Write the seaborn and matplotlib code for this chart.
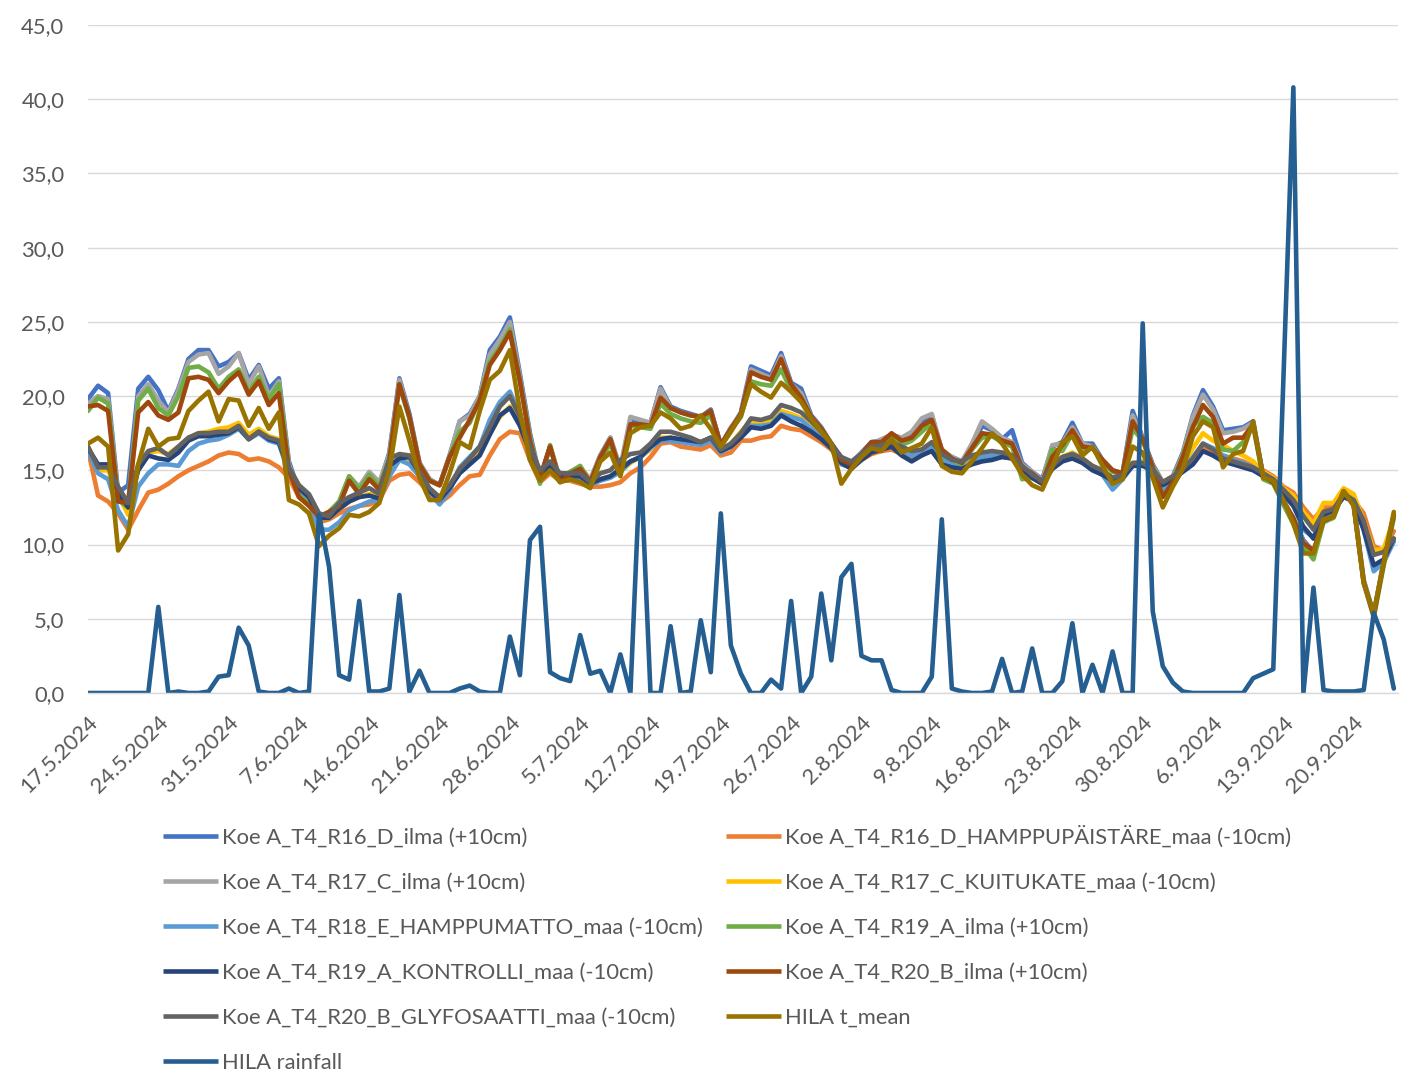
import numpy as np
import pandas as pd
import matplotlib
matplotlib.use('Agg')
import matplotlib.pyplot as plt
import seaborn as sns
import matplotlib.transforms as mtransforms
from matplotlib.lines import Line2D
from matplotlib.ticker import FuncFormatter, MultipleLocator

sns.set_style('white')
plt.rcParams['font.family'] = ['Lato', 'DejaVu Sans']

dates = pd.date_range('2024-05-17', '2024-09-24', freq='D')

names = [
    "Koe A_T4_R16_D_ilma (+10cm)",
    "Koe A_T4_R16_D_HAMPPUPÄISTÄRE_maa (-10cm)",
    "Koe A_T4_R17_C_ilma (+10cm)",
    "Koe A_T4_R17_C_KUITUKATE_maa (-10cm)",
    "Koe A_T4_R18_E_HAMPPUMATTO_maa (-10cm)",
    "Koe A_T4_R19_A_ilma (+10cm)",
    "Koe A_T4_R19_A_KONTROLLI_maa (-10cm)",
    "Koe A_T4_R20_B_ilma (+10cm)",
    "Koe A_T4_R20_B_GLYFOSAATTI_maa (-10cm)",
    "HILA t_mean",
    "HILA rainfall",
]

r16_ilma = [19.8, 20.7, 20.2, 13.5, 14.0, 20.5, 21.3, 20.4, 19.0, 20.5,
            22.5, 23.1, 23.1, 22.0, 22.3, 22.9, 21.1, 22.1, 20.5, 21.2,
            15.6, 13.6, 13.0, 11.7, 12.0, 12.8, 14.5, 13.8, 14.8, 14.0,
            16.2, 21.2, 18.8, 15.5, 14.4, 14.0, 16.0, 18.3, 18.8, 20.0,
            23.1, 24.0, 25.3, 21.5, 17.5, 14.5, 16.6, 14.3, 14.8, 15.1,
            14.3, 16.0, 17.2, 15.0, 18.4, 18.3, 18.2, 20.6, 19.3, 19.0,
            18.8, 18.6, 19.1, 16.7, 17.8, 18.9, 22.0, 21.7, 21.4, 22.9,
            20.9, 20.5, 18.7, 17.9, 16.8, 15.8, 15.5, 16.2, 16.9, 17.0,
            17.4, 17.1, 17.5, 18.3, 18.7, 16.3, 15.9, 15.6, 16.5, 18.0,
            17.7, 17.1, 17.7, 15.5, 14.9, 14.4, 16.6, 16.9, 18.2, 16.8,
            16.8, 15.7, 15.0, 14.8, 19.0, 17.2, 15.4, 14.2, 14.6, 16.2,
            18.7, 20.4, 19.3, 17.7, 17.8, 17.9, 18.3, 14.6, 14.3, 13.0,
            11.7, 10.3, 9.5, 11.6, 11.9, 13.6, 12.8, 7.6, 5.3, 8.9, 12.0]

r16_maa = [16.4, 13.3, 12.9, 12.1, 11.0, 12.3, 13.5, 13.7, 14.1, 14.6,
           15.0, 15.3, 15.6, 16.0, 16.2, 16.1, 15.7, 15.8, 15.6, 15.2,
           14.5, 13.2, 12.7, 11.5, 11.7, 12.1, 12.4, 12.6, 12.7, 13.0,
           14.3, 14.7, 14.8, 14.2, 13.5, 12.8, 13.3, 14.0, 14.6, 14.7,
           16.0, 17.1, 17.6, 17.5, 15.7, 14.2, 14.8, 14.3, 14.3, 14.1,
           13.9, 13.9, 14.0, 14.2, 14.8, 15.2, 15.9, 16.8, 16.9, 16.6,
           16.5, 16.4, 16.7, 16.0, 16.2, 17.0, 17.0, 17.2, 17.3, 18.0,
           17.8, 17.7, 17.3, 16.9, 16.4, 15.5, 15.3, 15.7, 16.1, 16.3,
           16.4, 16.1, 15.9, 16.1, 16.4, 15.7, 15.4, 15.1, 15.5, 15.7,
           15.8, 15.9, 15.8, 15.1, 14.5, 14.1, 15.1, 15.6, 16.0, 15.6,
           15.1, 14.8, 14.3, 14.5, 15.3, 15.4, 15.0, 14.1, 14.6, 15.0,
           15.6, 16.5, 16.3, 16.0, 15.8, 15.6, 15.3, 15.0, 14.6, 13.9,
           13.5, 12.5, 11.7, 12.5, 12.5, 13.6, 13.0, 12.1, 9.9, 9.6, 10.9]

r17_ilma = [19.5, 20.0, 19.8, 13.3, 12.8, 20.0, 20.8, 19.7, 18.9, 20.4,
            22.3, 22.8, 22.9, 21.5, 22.0, 22.9, 20.8, 22.0, 20.0, 21.0,
            15.4, 13.5, 12.9, 11.8, 12.1, 12.7, 14.6, 13.9, 14.9, 14.2,
            16.1, 21.1, 18.6, 15.5, 14.4, 14.0, 16.0, 18.3, 18.7, 20.0,
            22.8, 23.8, 25.0, 21.3, 17.3, 14.4, 16.6, 14.4, 14.9, 15.2,
            14.4, 16.0, 17.2, 15.2, 18.6, 18.4, 18.2, 20.5, 19.2, 18.9,
            18.7, 18.6, 19.0, 16.7, 17.9, 18.8, 21.8, 21.5, 21.2, 22.7,
            20.8, 20.2, 18.6, 17.8, 16.8, 15.8, 15.5, 16.2, 16.8, 17.1,
            17.4, 17.2, 17.6, 18.5, 18.8, 16.4, 15.9, 15.6, 16.8, 18.3,
            17.8, 17.2, 16.9, 15.4, 14.9, 14.3, 16.7, 16.8, 17.9, 16.8,
            16.6, 15.7, 15.0, 14.8, 18.7, 17.1, 15.3, 14.1, 14.5, 16.1,
            18.6, 20.1, 19.1, 17.5, 17.6, 17.8, 18.2, 14.6, 14.2, 13.0,
            11.7, 10.2, 9.4, 11.6, 11.9, 13.7, 12.8, 7.6, 5.3, 8.9, 12.0]

r17_maa = [16.6, 15.0, 15.0, 13.4, 12.0, 15.2, 16.2, 16.3, 16.1, 16.6,
           17.2, 17.5, 17.6, 17.8, 17.9, 18.2, 17.4, 17.8, 17.3, 17.1,
           15.2, 14.0, 13.2, 11.8, 11.8, 12.4, 12.9, 13.2, 13.4, 13.3,
           15.2, 15.9, 15.5, 14.6, 13.6, 13.0, 13.8, 15.0, 15.6, 16.3,
           17.5, 18.6, 19.3, 18.2, 16.0, 14.6, 15.2, 14.5, 14.6, 14.5,
           14.0, 14.4, 14.6, 14.9, 15.5, 15.9, 16.4, 17.2, 17.2, 17.0,
           16.9, 16.8, 17.1, 16.3, 16.8, 17.6, 18.3, 18.2, 18.4, 19.0,
           18.8, 18.5, 18.0, 17.4, 16.6, 15.6, 15.3, 15.9, 16.4, 16.5,
           16.7, 16.3, 16.1, 16.4, 16.7, 16.0, 15.6, 15.3, 15.7, 16.0,
           16.1, 16.2, 16.0, 15.2, 14.7, 14.2, 15.3, 15.9, 16.2, 15.8,
           15.3, 15.0, 14.5, 14.7, 15.5, 15.6, 15.2, 14.2, 14.6, 15.3,
           16.5, 17.5, 17.0, 16.7, 16.3, 16.0, 15.6, 14.9, 14.5, 13.8,
           13.3, 12.2, 11.4, 12.8, 12.8, 13.8, 13.4, 11.6, 9.6, 9.7, 11.8]

r18_maa = [16.3, 14.8, 14.4, 12.3, 11.2, 13.9, 14.8, 15.4, 15.4, 15.3,
           16.3, 16.8, 17.0, 17.1, 17.4, 17.8, 17.1, 17.5, 17.0, 16.8,
           14.8, 13.6, 12.9, 11.0, 11.0, 11.5, 12.3, 12.6, 12.9, 13.0,
           14.6, 15.7, 15.4, 14.6, 13.5, 12.7, 13.6, 15.2, 15.9, 16.6,
           18.4, 19.6, 20.3, 18.8, 15.9, 14.5, 15.0, 14.4, 14.5, 14.4,
           14.0, 14.3, 14.5, 14.9, 15.6, 15.9, 16.5, 17.0, 17.0, 16.9,
           16.8, 16.7, 17.0, 16.2, 16.6, 17.3, 18.0, 18.0, 18.1, 18.8,
           18.6, 18.4, 17.8, 17.2, 16.5, 15.4, 15.2, 15.8, 16.3, 16.4,
           16.6, 16.2, 16.0, 16.3, 16.6, 15.8, 15.4, 15.1, 15.6, 15.9,
           16.0, 16.0, 15.9, 15.0, 14.5, 14.1, 15.2, 15.7, 16.1, 15.6,
           15.1, 14.7, 13.7, 14.4, 15.3, 15.4, 14.8, 13.6, 14.1, 15.0,
           15.9, 16.8, 16.5, 16.0, 15.7, 15.5, 15.2, 14.7, 14.2, 13.3,
           12.7, 11.0, 10.5, 12.0, 12.2, 13.3, 12.9, 11.0, 8.2, 8.8, 10.2]

r19_ilma = [19.0, 19.9, 19.5, 13.0, 12.5, 19.7, 20.5, 19.2, 18.7, 20.0,
            21.9, 22.0, 21.6, 20.5, 21.3, 21.8, 20.3, 21.3, 19.8, 20.8,
            15.2, 13.3, 12.8, 11.8, 12.2, 12.9, 14.6, 13.7, 14.7, 13.9,
            15.8, 20.7, 18.5, 15.4, 14.3, 14.0, 15.9, 17.6, 18.2, 19.8,
            22.3, 23.3, 24.5, 21.0, 17.2, 14.1, 16.7, 14.3, 14.9, 15.3,
            14.2, 15.7, 16.8, 15.0, 18.0, 17.9, 17.8, 19.5, 18.8, 18.5,
            18.3, 18.2, 18.7, 16.6, 17.7, 18.6, 21.0, 20.8, 20.7, 21.8,
            20.4, 19.8, 18.5, 17.8, 16.8, 15.7, 15.5, 16.1, 16.8, 16.9,
            17.3, 16.7, 17.0, 17.6, 18.2, 16.1, 15.7, 15.4, 16.4, 17.2,
            17.3, 16.9, 16.6, 14.4, 14.5, 14.1, 16.4, 16.3, 17.5, 16.3,
            16.5, 15.6, 14.9, 14.7, 17.8, 17.0, 15.2, 14.0, 14.4, 16.0,
            18.0, 18.6, 18.2, 16.4, 16.3, 16.9, 18.0, 14.4, 14.1, 12.7,
            11.4, 9.9, 9.0, 11.5, 11.8, 13.6, 12.7, 7.4, 5.1, 8.6, 11.8]

r19_maa = [16.5, 15.4, 15.4, 13.5, 12.5, 15.0, 16.0, 15.8, 15.7, 16.2,
           17.0, 17.3, 17.3, 17.4, 17.5, 17.9, 17.1, 17.6, 17.1, 16.9,
           15.0, 13.8, 13.2, 11.8, 11.8, 12.4, 12.9, 13.2, 13.3, 13.1,
           15.3, 15.8, 15.9, 14.8, 13.6, 13.0, 13.8, 14.8, 15.4, 16.0,
           17.4, 18.7, 19.2, 18.0, 16.2, 14.8, 15.3, 14.6, 14.6, 14.6,
           14.1, 14.4, 14.6, 15.1, 15.6, 15.9, 16.6, 17.1, 17.2, 17.1,
           17.0, 16.9, 17.2, 16.3, 16.6, 17.2, 17.9, 17.8, 18.0, 18.7,
           18.3, 18.0, 17.6, 17.1, 16.5, 15.5, 15.1, 15.7, 16.2, 16.4,
           16.6, 16.0, 15.6, 16.0, 16.3, 15.4, 15.2, 15.1, 15.4, 15.6,
           15.7, 15.9, 15.8, 15.1, 14.5, 14.1, 15.1, 15.6, 15.8, 15.5,
           15.0, 14.7, 14.3, 14.5, 15.3, 15.3, 15.0, 14.0, 14.4, 14.9,
           15.4, 16.3, 16.0, 15.6, 15.4, 15.2, 15.0, 14.6, 14.2, 13.4,
           12.6, 11.2, 10.4, 12.0, 12.3, 13.2, 12.9, 11.0, 8.6, 9.0, 10.4]

r20_ilma = [19.3, 19.4, 19.0, 12.9, 12.8, 18.9, 19.6, 18.7, 18.4, 18.9,
            21.2, 21.3, 21.1, 20.2, 21.0, 21.6, 20.1, 21.0, 19.4, 20.2,
            15.0, 13.2, 12.6, 11.9, 12.2, 12.6, 14.3, 13.4, 14.4, 13.7,
            15.7, 20.8, 18.6, 15.4, 14.3, 14.0, 15.9, 17.2, 18.4, 19.7,
            22.1, 23.1, 24.3, 21.0, 17.0, 14.5, 16.6, 14.2, 14.8, 15.1,
            14.2, 15.9, 17.1, 14.9, 18.1, 18.1, 18.0, 19.9, 19.2, 18.9,
            18.7, 18.6, 19.0, 16.7, 17.8, 18.8, 21.6, 21.3, 21.1, 22.5,
            20.8, 19.9, 18.6, 17.8, 16.8, 15.7, 15.4, 16.1, 16.9, 16.9,
            17.5, 17.0, 17.2, 18.0, 18.4, 16.4, 15.8, 15.5, 16.5, 17.5,
            17.4, 17.0, 16.8, 15.2, 14.8, 14.2, 15.9, 16.7, 17.7, 16.6,
            16.5, 15.7, 15.0, 14.8, 18.3, 17.1, 15.2, 13.2, 14.2, 15.9,
            17.9, 19.4, 18.6, 16.8, 17.2, 17.2, 18.1, 14.6, 14.2, 12.9,
            11.8, 10.1, 9.6, 11.6, 11.9, 13.6, 12.7, 7.5, 5.2, 8.8, 12.0]

r20_maa = [16.6, 15.2, 15.2, 13.9, 12.8, 15.4, 16.3, 16.5, 16.0, 16.6,
           17.2, 17.5, 17.5, 17.6, 17.6, 18.0, 17.1, 17.6, 17.2, 17.0,
           15.2, 14.0, 13.4, 12.1, 11.9, 12.8, 13.2, 13.5, 13.8, 13.4,
           15.8, 16.1, 16.0, 14.9, 13.8, 13.2, 14.0, 15.1, 15.8, 16.6,
           17.9, 19.3, 20.0, 18.6, 16.6, 15.0, 15.6, 14.8, 14.8, 14.8,
           14.2, 14.8, 15.0, 15.7, 16.1, 16.2, 16.8, 17.6, 17.6, 17.4,
           17.2, 16.9, 17.2, 16.4, 16.8, 17.5, 18.5, 18.4, 18.6, 19.4,
           19.2, 18.9, 18.3, 17.6, 16.8, 15.9, 15.6, 16.1, 16.6, 16.7,
           16.9, 16.6, 16.3, 16.4, 16.9, 16.1, 15.7, 15.6, 16.0, 16.2,
           16.3, 16.2, 16.0, 15.3, 14.7, 14.3, 15.3, 15.9, 16.1, 15.8,
           15.3, 15.0, 14.5, 14.7, 15.5, 15.5, 15.1, 14.2, 14.6, 15.1,
           15.8, 16.8, 16.4, 15.8, 15.6, 15.4, 15.2, 14.8, 14.4, 13.7,
           13.0, 11.9, 11.0, 12.2, 12.4, 13.4, 13.0, 11.6, 9.3, 9.5, 10.4]

hila_t_mean = [16.8, 17.2, 16.6, 9.6, 10.7, 15.4, 17.8, 16.6, 17.1, 17.2,
               19.0, 19.7, 20.3, 18.3, 19.8, 19.7, 18.0, 19.2, 17.8, 18.9,
               13.0, 12.7, 12.1, 9.9, 10.6, 11.1, 12.0, 11.9, 12.2, 12.8,
               15.0, 19.3, 17.0, 14.5, 13.0, 13.0, 14.8, 16.9, 16.5, 19.0,
               21.1, 21.7, 23.1, 19.0, 15.7, 14.3, 15.0, 14.2, 14.4, 14.2,
               13.8, 15.6, 16.2, 14.6, 17.5, 17.9, 18.0, 18.9, 18.5, 17.8,
               18.0, 18.7, 17.8, 16.6, 17.6, 18.7, 20.8, 20.3, 19.9, 20.9,
               20.3, 19.6, 18.5, 17.6, 16.8, 14.1, 15.1, 15.9, 16.5, 16.3,
               17.1, 16.2, 16.5, 16.8, 17.9, 15.3, 14.9, 14.8, 15.6, 16.5,
               17.5, 16.8, 15.8, 14.7, 14.0, 13.7, 15.2, 16.9, 17.3, 16.0,
               16.6, 15.3, 14.1, 14.4, 16.6, 16.2, 14.5, 12.5, 13.9, 15.1,
               17.3, 18.3, 17.9, 15.2, 16.1, 16.3, 18.3, 14.5, 14.3, 13.0,
               11.4, 9.4, 9.4, 11.7, 11.9, 13.6, 12.6, 7.4, 5.4, 8.8, 12.2]

hila_rainfall = [0, 0, 0, 0, 0, 0, 0, 5.8, 0, 0.1,
                 0, 0, 0.1, 1.1, 1.2, 4.4, 3.2, 0.1, 0, 0,
                 0.3, 0, 0.1, 12.0, 8.5, 1.2, 0.9, 6.2, 0.1, 0.1,
                 0.3, 6.6, 0.1, 1.5, 0, 0, 0, 0.3, 0.5, 0.1,
                 0, 0, 3.8, 1.2, 10.3, 11.2, 1.4, 1.0, 0.8, 3.9,
                 1.3, 1.5, 0, 2.6, 0, 15.8, 0, 0, 4.5, 0,
                 0.1, 4.9, 1.4, 12.1, 3.2, 1.3, 0, 0, 0.9, 0.3,
                 6.2, 0, 1.1, 6.7, 2.2, 7.8, 8.7, 2.5, 2.2, 2.2,
                 0.2, 0, 0, 0, 1.1, 11.7, 0.3, 0.1, 0, 0,
                 0.1, 2.3, 0, 0.1, 3.0, 0, 0, 0.8, 4.7, 0,
                 1.9, 0, 2.8, 0, 0, 24.9, 5.5, 1.8, 0.7, 0.1,
                 0, 0, 0, 0, 0, 0, 1.0, 1.3, 1.6, 21.0,
                 40.8, 0, 7.1, 0.2, 0.1, 0.1, 0.1, 0.2, 5.4, 3.6, 0.3]

colors = ['#4472C4', '#ED7D31', '#A5A5A5', '#FFC000', '#5B9BD5', '#70AD47',
          '#264478', '#9E480E', '#636363', '#997300', '#255E91']

values = [r16_ilma, r16_maa, r17_ilma, r17_maa, r18_maa, r19_ilma,
          r19_maa, r20_ilma, r20_maa, hila_t_mean, hila_rainfall]
for v in values:
    assert len(v) == len(dates), len(v)

W, H = 1410, 1081
fig = plt.figure(figsize=(W / 100, H / 100), dpi=100)
L, R, T, B = 88, 1398, 25, 693
ax = fig.add_axes([L / W, 1 - B / H, (R - L) / W, (B - T) / H])

LW = 3.3
for name, vals, col in zip(names, values, colors):
    sns.lineplot(x=dates, y=vals, color=col, lw=LW, ax=ax, legend=False,
                 solid_joinstyle='round', solid_capstyle='round')

ax.set_ylim(0, 45)
ax.yaxis.set_major_locator(MultipleLocator(5))
ax.yaxis.set_major_formatter(FuncFormatter(lambda v, p: f"{v:.1f}".replace('.', ',')))
ax.set_xlim(dates[0], dates[-1] + pd.Timedelta(hours=10))
xt = pd.date_range('2024-05-17', periods=19, freq='7D')
ax.set_xticks(xt)
ax.set_xticklabels([f"{d.day}.{d.month}.{d.year}" for d in xt])
ax.set_xlabel('')
ax.set_ylabel('')

ax.grid(False)
ax.yaxis.grid(True, color='#D9D9D9', lw=1.0)
for s in ['top', 'right', 'left']:
    ax.spines[s].set_visible(False)
ax.spines['bottom'].set_color('#D9D9D9')
ax.spines['bottom'].set_linewidth(1.0)
ax.set_axisbelow(True)

FS = 15.8
ax.tick_params(axis='y', length=0, pad=17, labelsize=FS, labelcolor='#595959')
ax.tick_params(axis='x', direction='out', length=6, width=1, color='#D9D9D9',
               pad=13, labelsize=FS, labelcolor='#595959')
offset = mtransforms.ScaledTranslation(5 / 72, 0, fig.dpi_scale_trans)
for lab in ax.get_xticklabels():
    lab.set_rotation(45)
    lab.set_ha('right')
    lab.set_va('center')
    lab.set_rotation_mode('anchor')
    lab.set_transform(lab.get_transform() + offset)

fs_px = FS * 100 / 72
handles = [Line2D([], [], color=c, lw=LW, solid_capstyle='butt') for c in colors]
col1 = [0, 2, 4, 6, 8, 10]
col2 = [1, 3, 5, 7, 9]
common = dict(loc='upper left', frameon=False, borderpad=0, borderaxespad=0,
              handlelength=55 / fs_px, handletextpad=4 / fs_px,
              labelspacing=1.14, fontsize=FS, labelcolor='#595959')
top1 = 828.0
top2 = 825.5
fig.legend([handles[i] for i in col1], [names[i] for i in col1],
           bbox_to_anchor=(163 / W, 1 - top1 / H), **common)
fig.legend([handles[i] for i in col2], [names[i] for i in col2],
           bbox_to_anchor=(726 / W, 1 - top2 / H), **common)

fig.savefig('out.png', dpi=100)
